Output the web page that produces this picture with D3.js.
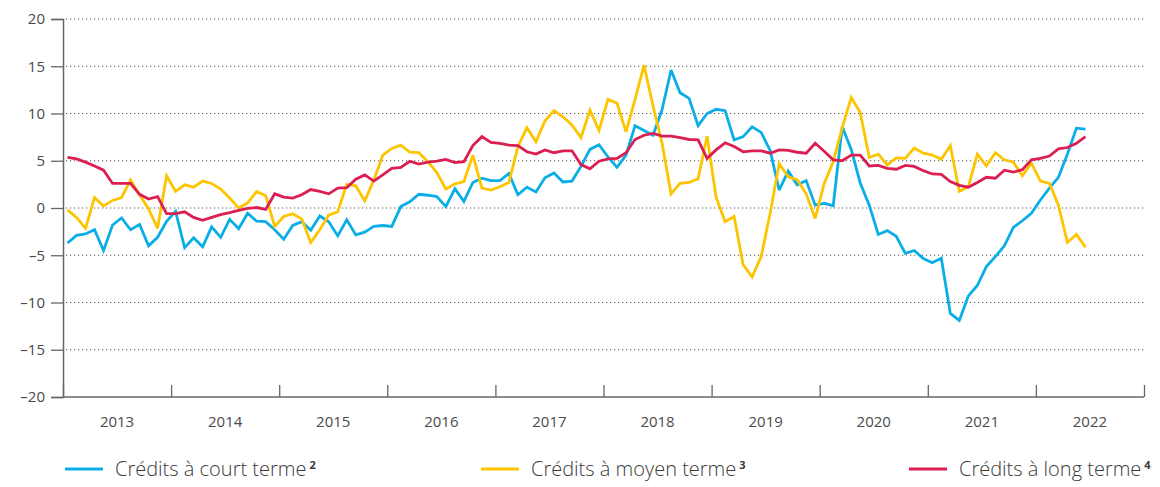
<!DOCTYPE html>
<html>
<head>
<meta charset="utf-8">
<script src="https://cdn.jsdelivr.net/npm/d3@7"></script>
<style>
  html, body { margin: 0; padding: 0; background: #fff; }
  svg { display: block; font-family: "Open Sans", sans-serif; }
</style>
</head>
<body>
<svg id="chart" width="1160" height="487"></svg>
<script>
// Monthly series, January 2013 – June 2022 (annual growth rates, %)
const startYear = 2013;
const years = [2013, 2014, 2015, 2016, 2017, 2018, 2019, 2020, 2021, 2022];
const yTicks = [-20, -15, -10, -5, 0, 5, 10, 15, 20];

const shortTerm = [
  -3.7, -2.9, -2.75, -2.3, -4.5, -1.8, -1.05, -2.3, -1.75, -4.0, -3.1, -1.4,
  -0.35, -4.2, -3.15, -4.1, -2.0, -3.1, -1.2, -2.2, -0.55, -1.4, -1.45, -2.3,
  -3.3, -1.85, -1.45, -2.35, -0.85, -1.45, -2.95, -1.25, -2.85, -2.55, -1.95, -1.85,
  -1.95, 0.15, 0.65, 1.45, 1.35, 1.2, 0.15, 2.05, 0.7, 2.7, 3.15, 2.9,
  2.9, 3.65, 1.4, 2.2, 1.7, 3.2, 3.7, 2.75, 2.85, 4.4, 6.2, 6.7,
  5.4, 4.3, 5.6, 8.7, 8.2, 7.7, 10.4, 14.6, 12.2, 11.6, 8.7, 10.0,
  10.45, 10.3, 7.2, 7.55, 8.6, 8.0, 6.1, 1.9, 3.9, 2.45, 2.9, 0.3,
  0.5, 0.25, 8.6, 6.2, 2.65, 0.3, -2.8, -2.4, -3.0, -4.8, -4.5, -5.35,
  -5.8, -5.3, -11.15, -11.9, -9.3, -8.2, -6.2, -5.15, -4.0, -2.05, -1.35, -0.55,
  0.85, 2.1, 3.25, 5.7, 8.45, 8.35
];

const mediumTerm = [
  -0.2, -1.0, -2.15, 1.1, 0.2, 0.8, 1.1, 2.95, 1.4, -0.1, -2.15, 3.4,
  1.75, 2.45, 2.2, 2.85, 2.6, 2.0, 1.05, 0.0, 0.55, 1.75, 1.3, -1.95,
  -0.9, -0.6, -1.15, -3.65, -2.3, -0.75, -0.4, 2.5, 2.35, 0.75, 2.95, 5.6,
  6.3, 6.65, 5.9, 5.85, 4.9, 3.75, 2.0, 2.55, 2.8, 5.6, 2.1, 1.9,
  2.25, 2.7, 6.5, 8.5, 7.0, 9.2, 10.3, 9.65, 8.8, 7.45, 10.35, 8.2,
  11.5, 11.1, 8.05, 11.5, 15.1, 10.8, 6.85, 1.5, 2.6, 2.7, 3.1, 7.6,
  1.15, -1.45, -0.9, -6.0, -7.3, -5.15, -0.55, 4.7, 3.3, 3.0, 1.5, -1.1,
  2.6, 4.9, 8.5, 11.7, 10.1, 5.35, 5.7, 4.55, 5.3, 5.25, 6.35, 5.8,
  5.6, 5.15, 6.6, 1.75, 2.25, 5.7, 4.45, 5.85, 5.1, 4.85, 3.4, 4.75,
  2.85, 2.6, 0.3, -3.65, -2.8, -4.15
];

const longTerm = [
  5.35, 5.2, 4.85, 4.45, 4.0, 2.6, 2.6, 2.6, 1.45, 0.95, 1.2, -0.6,
  -0.6, -0.4, -1.0, -1.3, -1.0, -0.7, -0.5, -0.25, -0.05, 0.05, -0.15, 1.5,
  1.15, 1.05, 1.4, 1.95, 1.75, 1.5, 2.1, 2.15, 3.05, 3.5, 2.85, 3.5,
  4.2, 4.3, 4.95, 4.65, 4.85, 4.95, 5.15, 4.8, 4.9, 6.6, 7.55, 6.95,
  6.85, 6.65, 6.6, 5.95, 5.7, 6.15, 5.85, 6.05, 6.05, 4.6, 4.15, 4.95,
  5.2, 5.25, 5.85, 7.25, 7.7, 7.9, 7.6, 7.6, 7.45, 7.25, 7.2, 5.25,
  6.15, 6.9, 6.5, 5.95, 6.05, 6.05, 5.8, 6.15, 6.1, 5.9, 5.8, 6.85,
  6.0, 5.1, 5.0, 5.6, 5.6, 4.45, 4.5, 4.2, 4.1, 4.5, 4.4, 3.95,
  3.6, 3.55, 2.8, 2.4, 2.2, 2.7, 3.25, 3.15, 4.0, 3.8, 4.05, 5.1,
  5.25, 5.5, 6.25, 6.4, 6.85, 7.55
];

const seriesNames = ["Crédits à court terme", "Crédits à moyen terme", "Crédits à long terme"];
const seriesNotes = ["2", "3", "4"];
const seriesColors = ["#0aaee6", "#fdc400", "#dc1f52"];
const seriesValues = [shortTerm, mediumTerm, longTerm];

const svg = d3.select("#chart");
const margin = { left: 63, right: 1144, top: 19, bottom: 397 };

const x = d3.scaleLinear().domain([startYear, startYear + years.length]).range([margin.left, margin.right]);
const y = d3.scaleLinear().domain([-20, 20]).range([margin.bottom, margin.top]);

// gridlines
svg.append("g")
  .selectAll("line")
  .data(yTicks.filter(d => d > -20))
  .join("line")
  .attr("x1", margin.left + 3)
  .attr("x2", margin.right)
  .attr("y1", d => y(d))
  .attr("y2", d => y(d))
  .attr("stroke", "#555")
  .attr("stroke-width", 1.1)
  .attr("stroke-dasharray", "1.2,2.8");

// y axis
const yAxis = svg.append("g")
  .attr("transform", `translate(${margin.left},0)`)
  .call(d3.axisLeft(y).tickValues(yTicks).tickSize(12).tickPadding(6)
    .tickFormat(d => d < 0 ? "\u2013" + Math.abs(d) : String(d)));
yAxis.select(".domain").attr("stroke", "#666").attr("stroke-width", 1.5);
yAxis.selectAll(".tick line").attr("stroke", "#666").attr("stroke-width", 1.3);
yAxis.selectAll("text").attr("fill", "#4a4a4a").attr("font-size", 15).attr("font-family", "Open Sans, sans-serif");

// x axis
const boundaries = d3.range(startYear, startYear + years.length + 1);
const xAxis = svg.append("g")
  .attr("transform", `translate(0,${margin.bottom})`)
  .call(d3.axisBottom(x).tickValues(boundaries).tickSize(-12).tickFormat(""));
xAxis.select(".domain").attr("stroke", "#666").attr("stroke-width", 1.5).attr("d", `M${margin.left},0H${margin.right}`);
xAxis.selectAll(".tick line").attr("stroke", "#666").attr("stroke-width", 1.3);

svg.append("g")
  .selectAll("text")
  .data(years)
  .join("text")
  .attr("x", d => x(d + 0.5))
  .attr("y", 427)
  .attr("text-anchor", "middle")
  .attr("fill", "#4a4a4a")
  .attr("font-size", 15)
  .text(d => d);

// lines
const line = d3.line()
  .x((d, i) => x(startYear + (i + 0.5) / 12))
  .y(d => y(d));

svg.append("g")
  .selectAll("path")
  .data(seriesValues)
  .join("path")
  .attr("d", d => line(d))
  .attr("fill", "none")
  .attr("stroke", (d, i) => seriesColors[i])
  .attr("stroke-width", 2.8)
  .attr("stroke-linejoin", "miter")
  .attr("stroke-miterlimit", 3);

// legend
const legendX = [65, 481, 909];
const legend = svg.append("g")
  .selectAll("g")
  .data(seriesNames)
  .join("g")
  .attr("transform", (d, i) => `translate(${legendX[i]},469)`);
legend.append("line")
  .attr("x1", 0).attr("x2", 38)
  .attr("stroke", (d, i) => seriesColors[i])
  .attr("stroke-width", 3);
const lt = legend.append("text")
  .attr("x", 50).attr("y", 7)
  .attr("fill", "#3a3a3a")
  .attr("font-size", 20)
  .attr("font-weight", 300);
lt.append("tspan").text(d => d);
lt.append("tspan")
  .attr("dx", 3)
  .attr("dy", -7)
  .attr("font-size", 11)
  .attr("font-weight", "bold")
  .text((d, i) => seriesNotes[i]);
</script>
</body>
</html>
